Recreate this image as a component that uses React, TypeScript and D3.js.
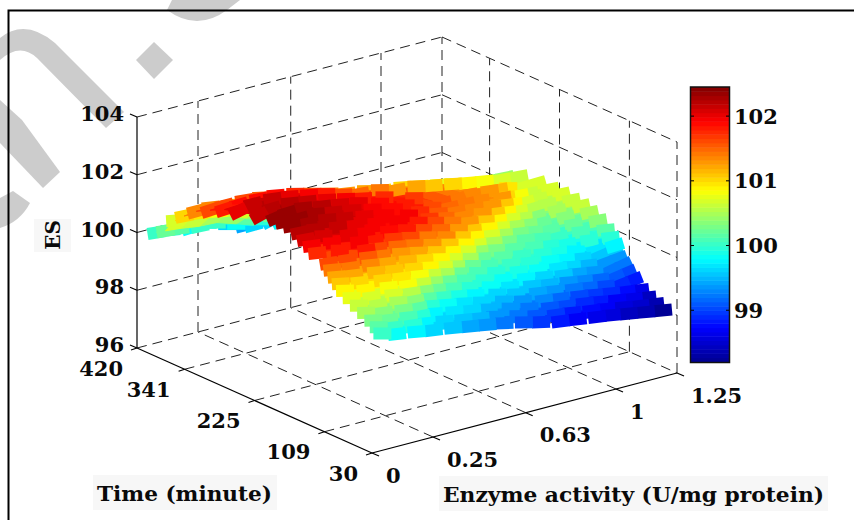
import React from "react"
import { scaleLinear, range, descending } from "d3"

/** Tick values of the three axes and of the colorbar */
const enzymeTicks = [0, 0.25, 0.63, 1, 1.25]
const timeTicks = [30, 109, 225, 341, 420]
const esTicks = [96, 98, 100, 102, 104]
const barTicks = [99, 100, 101, 102]

/** Enzyme activity of each surface column */
const enzymeGrid = [0.05, 0.11, 0.19, 0.26, 0.34, 0.41, 0.48, 0.55, 0.63, 0.7, 0.78, 0.85, 0.93, 0.99, 1.06, 1.13, 1.2]

/** Far rows share the same times */
const backTimes = [295, 319, 342, 362, 377, 393, 408]

/** Time of each sample, one list per enzymeGrid column */
const timeColumns = [
	[33, 39, 48, 60, 72, 84, 95, 102, 109, 116, 122, 141, 150, 160, 170, 183, 196, 210, 237, 272, ...backTimes],
	[33, 38, 46, 55, 64, 75, 85, 95, 104, 110, 115, 128, 141, 155, 168, 180, 195, 215, 241, 272, ...backTimes],
	[33, 38, 46, 54, 63, 71, 79, 89, 100, 109, 113, 116, 128, 145, 163, 181, 200, 221, 243, 272, ...backTimes],
	[33, 48, 53, 58, 63, 69, 75, 86, 98, 110, 119, 125, 131, 145, 163, 181, 199, 218, 242, 272, ...backTimes],
	[33, 47, 65, 70, 75, 80, 84, 88, 98, 108, 119, 125, 132, 139, 160, 180, 200, 220, 242, 272, ...backTimes],
	[33, 44, 59, 70, 79, 88, 93, 96, 100, 109, 119, 126, 132, 138, 152, 174, 195, 218, 239, 272, ...backTimes],
	[33, 44, 58, 72, 81, 90, 98, 102, 105, 110, 117, 124, 132, 140, 147, 163, 188, 211, 239, 272, ...backTimes],
	[33, 48, 59, 70, 81, 91, 101, 110, 113, 117, 120, 124, 129, 138, 148, 157, 173, 197, 232, 272, ...backTimes],
	[33, 42, 55, 66, 77, 88, 98, 109, 119, 123, 127, 130, 136, 141, 152, 163, 174, 185, 215, 272, ...backTimes],
	[33, 41, 52, 63, 74, 84, 95, 107, 119, 131, 135, 138, 142, 146, 151, 162, 173, 184, 196, 272, ...backTimes],
	[33, 40, 50, 60, 70, 80, 90, 102, 115, 128, 140, 144, 148, 152, 157, 162, 176, 190, 204, 272, ...backTimes],
	[33, 42, 51, 61, 71, 79, 88, 98, 112, 125, 138, 149, 155, 160, 165, 168, 174, 194, 213, 272, ...backTimes],
	[33, 42, 53, 62, 71, 80, 88, 97, 110, 123, 137, 151, 161, 168, 175, 182, 186, 190, 211, 272, ...backTimes],
	[33, 42, 54, 62, 71, 79, 89, 99, 109, 122, 135, 149, 162, 171, 179, 187, 196, 208, 220, 272, ...backTimes],
	[33, 41, 52, 62, 71, 80, 90, 100, 110, 121, 135, 148, 162, 176, 185, 195, 204, 214, 233, 272, ...backTimes],
	[33, 42, 53, 65, 74, 83, 91, 101, 111, 116, 127, 141, 153, 166, 180, 196, 211, 226, 241, 272, ...backTimes],
	[33, 46, 59, 71, 82, 92, 99, 107, 115, 113, 120, 128, 141, 155, 169, 185, 202, 220, 242, 272, ...backTimes],
]

/** ES of each sample, same shape as timeColumns */
const esColumns = [
	[100.0, 100.16, 100.31, 100.46, 100.6, 100.75, 100.9, 101.08, 101.25, 101.43, 101.6, 101.78, 101.94, 102.07, 102.21, 102.32, 102.34, 102.35, 102.18, 102.0, 101.85, 101.6, 101.35, 101.0, 100.7, 100.2, 100.0],
	[99.85, 100.03, 100.21, 100.38, 100.55, 100.72, 100.88, 101.05, 101.22, 101.42, 101.64, 101.85, 101.98, 102.1, 102.21, 102.31, 102.33, 102.34, 102.25, 102.12, 101.88, 101.63, 101.35, 100.97, 100.6, 100.15, 99.95],
	[99.75, 99.93, 100.12, 100.3, 100.49, 100.67, 100.85, 101.01, 101.18, 101.35, 101.58, 101.8, 101.96, 102.05, 102.15, 102.25, 102.27, 102.28, 102.24, 102.12, 101.9, 101.63, 101.25, 100.85, 100.5, 100.05, 99.85],
	[99.65, 99.74, 99.95, 100.17, 100.38, 100.59, 100.79, 100.95, 101.1, 101.24, 101.42, 101.62, 101.82, 101.96, 102.05, 102.14, 102.18, 102.21, 102.15, 102.05, 101.87, 101.57, 101.17, 100.72, 100.42, 100.02, 99.87],
	[99.55, 99.65, 99.75, 99.96, 100.17, 100.38, 100.6, 100.83, 100.99, 101.16, 101.32, 101.51, 101.71, 101.9, 101.97, 102.04, 102.06, 102.08, 102.04, 101.92, 101.75, 101.42, 101.0, 100.45, 100.15, 99.8, 99.65],
	[99.45, 99.57, 99.7, 99.85, 100.02, 100.2, 100.41, 100.64, 100.86, 101.03, 101.2, 101.39, 101.59, 101.8, 101.93, 101.98, 101.98, 101.99, 101.94, 101.8, 101.6, 101.25, 100.8, 100.2, 99.95, 99.6, 99.45],
	[99.35, 99.47, 99.6, 99.72, 99.89, 100.07, 100.24, 100.46, 100.68, 100.9, 101.08, 101.27, 101.45, 101.63, 101.82, 101.92, 101.9, 101.88, 101.8, 101.63, 101.45, 101.05, 100.6, 100.0, 99.75, 99.6, 99.45],
	[99.25, 99.33, 99.48, 99.62, 99.77, 99.93, 100.09, 100.25, 100.47, 100.69, 100.9, 101.12, 101.33, 101.49, 101.65, 101.7, 101.78, 101.8, 101.75, 101.5, 101.3, 100.9, 100.4, 99.95, 99.9, 99.75, 99.6],
	[99.1, 99.23, 99.37, 99.51, 99.65, 99.8, 99.95, 100.1, 100.25, 100.46, 100.68, 100.89, 101.09, 101.29, 101.44, 101.5, 101.55, 101.65, 101.7, 101.45, 101.2, 100.8, 100.2, 99.6, 99.5, 99.4, 99.3],
	[98.95, 99.09, 99.24, 99.39, 99.53, 99.68, 99.83, 99.97, 100.1, 100.24, 100.45, 100.66, 100.88, 101.08, 101.29, 101.38, 101.45, 101.5, 101.55, 101.3, 101.05, 100.7, 100.1, 99.5, 99.1, 98.8, 98.6],
	[98.8, 98.96, 99.11, 99.27, 99.43, 99.58, 99.74, 99.87, 100.0, 100.13, 100.27, 100.48, 100.69, 100.9, 101.11, 101.32, 101.35, 101.4, 101.42, 101.25, 101.0, 100.55, 99.95, 99.35, 98.95, 98.6, 98.45],
	[98.72, 98.86, 99.01, 99.17, 99.33, 99.49, 99.66, 99.81, 99.93, 100.05, 100.17, 100.32, 100.51, 100.71, 100.9, 101.12, 101.31, 101.33, 101.35, 101.12, 100.88, 100.42, 99.82, 99.22, 98.82, 98.5, 98.35],
	[98.62, 98.75, 98.9, 99.06, 99.22, 99.38, 99.54, 99.7, 99.83, 99.95, 100.06, 100.18, 100.32, 100.5, 100.68, 100.86, 101.07, 101.28, 101.32, 101.0, 100.75, 100.3, 99.72, 99.1, 98.7, 98.42, 98.3],
	[98.55, 98.68, 98.81, 98.98, 99.14, 99.3, 99.46, 99.61, 99.76, 99.87, 99.99, 100.11, 100.23, 100.39, 100.55, 100.72, 100.88, 101.0, 101.15, 100.9, 100.65, 100.2, 99.6, 99.0, 98.6, 98.38, 98.25],
	[98.45, 98.59, 98.73, 98.88, 99.04, 99.19, 99.35, 99.49, 99.64, 99.78, 99.89, 100.01, 100.13, 100.25, 100.39, 100.55, 100.7, 100.85, 100.93, 100.8, 100.52, 100.08, 99.48, 98.88, 98.52, 98.32, 98.22],
	[98.35, 98.48, 98.62, 98.75, 98.91, 99.07, 99.23, 99.39, 99.53, 99.68, 99.95, 100.1, 100.25, 100.38, 100.48, 100.55, 100.6, 100.65, 100.7, 100.7, 100.43, 99.95, 99.35, 98.8, 98.5, 98.3, 98.2],
	[98.25, 98.35, 98.46, 98.6, 98.85, 99.0, 99.2, 99.35, 99.55, 99.75, 99.95, 100.15, 100.35, 100.5, 100.6, 100.65, 100.7, 100.7, 100.7, 100.65, 100.4, 99.9, 99.3, 98.8, 98.5, 98.3, 98.2],
]

/** Rows from here on lie behind the ridge */
const firstBackRow = 20

/** Colorbar range and its number of colour steps */
const esMin = 98.2
const esMax = 102.45
const steps = 64

const font = "'DejaVu Serif', serif"
const labelBg = "#f7f7f7"
const markGray = "#cccccc"

/** Floor axes are normalised, then sheared onto the screen */
const uScale = scaleLinear().domain([0, 1.25]).range([0, 1])
const vScale = scaleLinear().domain([30, 420]).range([0, 1])
const zScale = scaleLinear().domain([96, 104]).range([0, 231])

const origin = [372, 453]
const uVec = [305, -80]
const vVec = [-235, -105]

const project = (enzyme: number, time: number, es: number) => {
	const u = uScale(enzyme)
	const v = vScale(time)
	return [origin[0] + uVec[0] * u + vVec[0] * v, origin[1] + uVec[1] * u + vVec[1] * v - zScale(es)]
}

/** Jet colormap, cut into the same steps as the colorbar */
const jetRamp = scaleLinear<string>()
	.domain([0, 0.125, 0.375, 0.625, 0.875, 1])
	.range(["#00008f", "#0000ff", "#00ffff", "#ffff00", "#ff0000", "#800000"])
	.clamp(true)
const levelH = (esMax - esMin) / steps
const jet = (es: number) => jetRamp((Math.floor((es - esMin) / levelH) + 0.5) / steps)

const barY = scaleLinear().domain([esMin, esMax]).range([362, 87])

const screen = enzymeGrid.map((enzyme, c) => timeColumns[c].map((time, r) => project(enzyme, time, esColumns[c][r])))

/** Surface samples, far ones first so near ones paint over them */
const samples = enzymeGrid
	.flatMap((enzyme, c) =>
		timeColumns[c].map((time, r) => {
			const [x, y] = screen[c][r]
			const nc = c < enzymeGrid.length - 1 ? c + 1 : c - 1
			const dir = nc > c ? 1 : -1
			const slope = (Math.atan2((screen[nc][r][1] - y) * dir, (screen[nc][r][0] - x) * dir) * 180) / Math.PI
			const angle = Math.max(-40, Math.min(0, slope))
			const depth = -uVec[1] * uScale(enzyme) - vVec[1] * vScale(time)
			// cell towards the next column and the next row fills what the tiles leave open
			const cell =
				c < enzymeGrid.length - 1 && r < timeColumns[c].length - 1
					? [screen[c][r], screen[c + 1][r], screen[c + 1][r + 1], screen[c][r + 1]].map(p => p.join(",")).join(" ")
					: null
			return { x, y, r, angle, depth, cell, fill: jet(esColumns[c][r]) }
		})
	)
	.sort((a, b) => descending(a.depth, b.depth))

const backSamples = samples.filter(s => s.r >= firstBackRow)
const frontSamples = samples.filter(s => s.r < firstBackRow)

const Cell = ({ s }: any) =>
	s.cell ? <polygon points={s.cell} fill={s.fill} stroke={s.fill} strokeWidth={1} /> : null

const Tile = ({ s }: any) => (
	<rect x={-9} y={-6} width={18} height={12} fill={s.fill} transform={`translate(${s.x},${s.y}) rotate(${s.angle})`} />
)

const Seg = ({ a, b, dashed = false }: { a: number[]; b: number[]; dashed?: boolean }) => (
	<line
		x1={a[0]}
		y1={a[1]}
		x2={b[0]}
		y2={b[1]}
		stroke={dashed ? "#222" : "#000"}
		strokeWidth={dashed ? 1 : 1.2}
		strokeDasharray={dashed ? "10 6" : undefined}
	/>
)

const Label = ({ x, y, anchor = "start", size = 21, length, children }: any) => (
	<text
		x={x}
		y={y}
		dy="0.36em"
		textAnchor={anchor}
		fontFamily={font}
		fontWeight="bold"
		fontSize={size}
		fill="#0a0a0a"
		textLength={length}
		lengthAdjust={length ? "spacingAndGlyphs" : undefined}
	>
		{children}
	</text>
)

export default function App() {
	const e0 = enzymeTicks[0]
	const e1 = enzymeTicks[enzymeTicks.length - 1]
	const t0 = timeTicks[0]
	const t1 = timeTicks[timeTicks.length - 1]
	const z0 = esTicks[0]
	const z1 = esTicks[esTicks.length - 1]

	return (
		<svg width={854} height={520} style={{ position: "absolute", left: 0, top: 0, background: "#fff" }}>
			{/* watermark pieces behind the figure */}
			<g fill={markGray}>
				<path d="M154 42L173 60L154 79L136 60Z" />
				<path d="M172 0L167 10Q197 32 227 10L240 0Z" />
				<path d="M0 38Q25 18 55 43L124 112L106 128L37 58Q20 42 0 60Z" />
				<path d="M0 100L22 120L60 172L43 188L0 143Z" />
				<path d="M0 198L13 191L30 203Q20 222 0 228Z" />
			</g>
			<path d="M8.5 520V10.5H854" fill="none" stroke="#000" strokeWidth={2} />

			{/* back walls */}
			{esTicks.map(z => (
				<g key={z}>
					<Seg a={project(e0, t1, z)} b={project(e1, t1, z)} dashed />
					<Seg a={project(e1, t1, z)} b={project(e1, t0, z)} dashed />
				</g>
			))}
			{enzymeTicks.slice(1).map(e => (
				<Seg key={e} a={project(e, t1, z0)} b={project(e, t1, z1)} dashed />
			))}
			{timeTicks.slice(0, -1).map(t => (
				<Seg key={t} a={project(e1, t, z0)} b={project(e1, t, z1)} dashed />
			))}

			{/* floor grid */}
			{enzymeTicks.slice(1, -1).map(e => (
				<Seg key={e} a={project(e, t0, z0)} b={project(e, t1, z0)} dashed />
			))}
			{timeTicks.slice(1, -1).map(t => (
				<Seg key={t} a={project(e0, t, z0)} b={project(e1, t, z0)} dashed />
			))}

			{/* solid axes */}
			<Seg a={project(e0, t1, z0)} b={project(e0, t1, z1)} />
			<Seg a={project(e0, t1, z0)} b={project(e0, t0, z0)} />
			<Seg a={project(e0, t0, z0)} b={project(e1, t0, z0)} />

			{/* axis ticks */}
			{esTicks.map(z => {
				const [x, y] = project(e0, t1, z)
				return (
					<g key={z}>
						<Seg a={[x, y]} b={[x - 7, y - 3]} />
						<Label x={x - 13} y={y - 3.5} anchor="end">
							{z}
						</Label>
					</g>
				)
			})}
			{timeTicks.map(t => {
				const [x, y] = project(e0, t, z0)
				return (
					<g key={t}>
						<Seg a={[x, y]} b={[x - 6, y + 2]} />
						<Label x={x - 14} y={y + 20} anchor="end">
							{t}
						</Label>
					</g>
				)
			})}
			{enzymeTicks.map(e => {
				const [x, y] = project(e, t0, z0)
				return (
					<g key={e}>
						<Seg a={[x, y]} b={[x + 7, y + 3]} />
						<Label x={x + 14} y={y + 22}>
							{e}
						</Label>
					</g>
				)
			})}

			{/* surface: far flank first, then the near flank with its tiles on top */}
			{backSamples.map((s, i) => (
				<g key={i}>
					<Cell s={s} />
					<Tile s={s} />
				</g>
			))}
			{frontSamples.map((s, i) => (
				<Cell key={i} s={s} />
			))}
			{frontSamples.map((s, i) => (
				<Tile key={i} s={s} />
			))}

			{/* colorbar */}
			{range(steps).map(i => (
				<rect
					key={i}
					x={691}
					width={38}
					y={barY(esMin + (i + 1) * levelH)}
					height={barY(esMin) - barY(esMin + levelH) + 0.5}
					fill={jet(esMin + (i + 0.5) * levelH)}
				/>
			))}
			<rect x={690.5} y={87} width={39} height={275.5} fill="none" stroke="#111" strokeWidth={1.5} />
			{barTicks.map(t => (
				<g key={t}>
					<line x1={691} x2={694} y1={barY(t)} y2={barY(t)} stroke="#000" />
					<line x1={726} x2={729} y1={barY(t)} y2={barY(t)} stroke="#000" />
					<Label x={734} y={barY(t)}>
						{t}
					</Label>
				</g>
			))}

			{/* axis titles */}
			<rect x={93} y={475} width={184} height={35} fill={labelBg} />
			<Label x={97} y={494} size={20} length={175}>
				Time (minute)
			</Label>
			<rect x={439} y={476} width={389} height={35} fill={labelBg} />
			<Label x={443} y={495} size={20} length={381}>
				Enzyme activity (U/mg protein)
			</Label>
			<rect x={34} y={219} width={37} height={33} fill={labelBg} />
			<g transform="translate(53,235) rotate(-90)">
				<Label x={0} y={0} anchor="middle" size={20}>
					ES
				</Label>
			</g>
		</svg>
	)
}
